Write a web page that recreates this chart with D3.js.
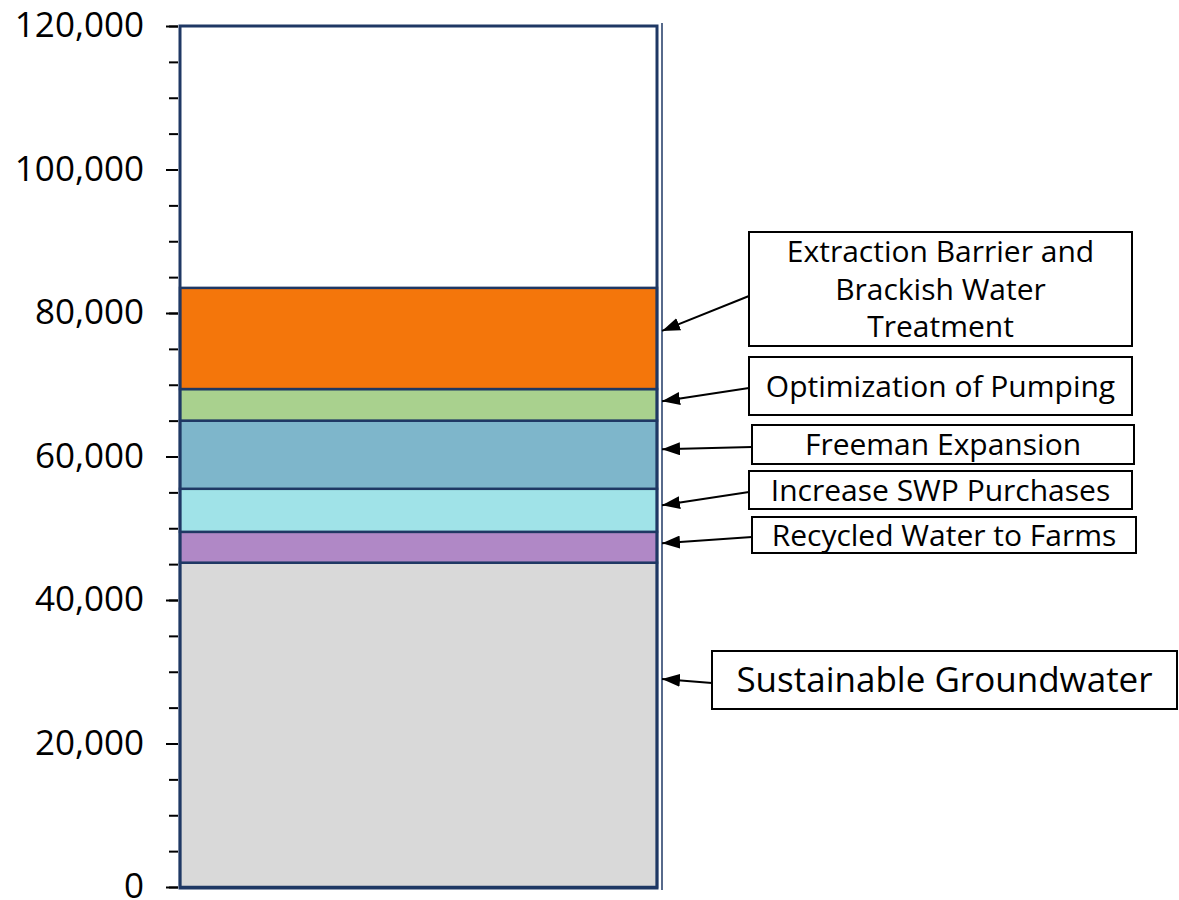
<!DOCTYPE html>
<html>
<head>
<meta charset="utf-8">
<script src="https://cdn.jsdelivr.net/npm/d3@7"></script>
<style>
  html, body { margin: 0; padding: 0; background: #fff; }
  svg { display: block; font-family: "Open Sans", "Noto Sans", sans-serif; }
</style>
</head>
<body>
<svg id="chart" width="1179" height="900"></svg>
<script>
// Supply components, stacked bottom to top (acre-feet per year)
const components = [
  "Sustainable Groundwater",
  "Recycled Water to Farms",
  "Increase SWP Purchases",
  "Freeman Expansion",
  "Optimization of Pumping",
  "Extraction Barrier and Brackish Water Treatment"
];
const amounts = [45200, 4300, 6000, 9500, 4400, 14100];
// Value on the bar that each callout arrow points at
const pointerValues = [29000, 47900, 53200, 61000, 67700, 77500];
const majorTicks = [0, 20000, 40000, 60000, 80000, 100000, 120000];
const minorTicks = d3.range(0, 120001, 5000);

const colors = ["#d9d9d9", "#b088c6", "#a0e3e8", "#7eb6cb", "#a9d18e", "#f4760b"];
const navy = "#1f3864";

// Callout boxes: [x0, y0, x1, y1], text lines, font size
const callouts = [
  { box: [712, 651, 1177, 709], lines: ["Sustainable Groundwater"], size: 35 },
  { box: [752, 517, 1136, 553], lines: ["Recycled Water to Farms"], size: 30 },
  { box: [749, 471, 1132, 509], lines: ["Increase SWP Purchases"], size: 30 },
  { box: [752, 425, 1134, 464], lines: ["Freeman Expansion"], size: 30 },
  { box: [749, 357, 1132, 415], lines: ["Optimization of Pumping"], size: 30 },
  { box: [749, 232, 1132, 346], lines: ["Extraction Barrier and", "Brackish Water", "Treatment"], size: 30 }
];
const arrowStartY = [683, 537, 492, 447, 388, 296];

const svg = d3.select("#chart");
const plot = { left: 180, right: 657, top: 26, bottom: 887 };

const y = d3.scaleLinear().domain([0, 120000]).range([plot.bottom, plot.top]);

// Stacked segments
let base = 0;
const segs = amounts.map((v, i) => {
  const s = { name: components[i], y0: base, y1: base + v, color: colors[i] };
  base += v;
  return s;
});

svg.append("g").selectAll("rect").data(segs).join("rect")
  .attr("x", plot.left)
  .attr("width", plot.right - plot.left)
  .attr("y", d => y(d.y1))
  .attr("height", d => y(d.y0) - y(d.y1))
  .attr("fill", d => d.color)
  .attr("stroke", navy)
  .attr("stroke-width", 2.5);

// Plot frame
svg.append("rect")
  .attr("x", plot.left).attr("y", plot.top)
  .attr("width", plot.right - plot.left)
  .attr("height", plot.bottom + 1 - plot.top)
  .attr("fill", "none")
  .attr("stroke", navy)
  .attr("stroke-width", 3);

// Secondary vertical rule beside the bar
svg.append("line")
  .attr("x1", 662).attr("x2", 662)
  .attr("y1", 23).attr("y2", 890)
  .attr("stroke", navy).attr("stroke-width", 1.5);

// Minor ticks
const minorAxis = svg.append("g")
  .attr("transform", `translate(${plot.left - 2},0)`)
  .call(d3.axisLeft(y).tickValues(minorTicks).tickSize(9).tickFormat(""));
minorAxis.select(".domain").remove();
minorAxis.selectAll("line").attr("stroke", "#000").attr("stroke-width", 2);

// Major ticks with labels
const majorAxis = svg.append("g")
  .attr("transform", `translate(${plot.left - 2},0)`)
  .call(d3.axisLeft(y).tickValues(majorTicks).tickSize(12).tickPadding(22)
    .tickFormat(d3.format(",")));
majorAxis.select(".domain").remove();
majorAxis.selectAll("line").attr("stroke", "#000").attr("stroke-width", 2);
majorAxis.selectAll("text")
  .attr("font-size", 35)
  .attr("dy", "0.3em")
  .attr("font-family", "'Open Sans', 'Noto Sans', sans-serif")
  .attr("fill", "#000");

// Arrowhead marker
svg.append("defs").append("marker")
  .attr("id", "head")
  .attr("viewBox", "0 0 18 13")
  .attr("refX", 18).attr("refY", 6.5)
  .attr("markerWidth", 18).attr("markerHeight", 13)
  .attr("markerUnits", "userSpaceOnUse")
  .attr("orient", "auto")
  .append("path").attr("d", "M0,0 L18,6.5 L0,13 Z").attr("fill", "#000");

// Callouts
const cg = svg.append("g");
callouts.forEach((c, i) => {
  const [x0, y0, x1, y1] = c.box;
  cg.append("line")
    .attr("x1", x0).attr("y1", arrowStartY[i])
    .attr("x2", 662).attr("y2", y(pointerValues[i]))
    .attr("stroke", "#000").attr("stroke-width", 2)
    .attr("marker-end", "url(#head)");
  cg.append("rect")
    .attr("x", x0).attr("y", y0)
    .attr("width", x1 - x0).attr("height", y1 - y0)
    .attr("fill", "#fff").attr("stroke", "#000").attr("stroke-width", 2);
  const lh = c.size * 1.25;
  const cy = (y0 + y1) / 2;
  const firstY = cy - (c.lines.length - 1) * lh / 2;
  c.lines.forEach((t, j) => {
    cg.append("text")
      .attr("x", (x0 + x1) / 2)
      .attr("y", firstY + j * lh)
      .attr("dy", "0.35em")
      .attr("text-anchor", "middle")
      .attr("font-size", c.size)
      .attr("fill", "#000")
      .text(t);
  });
});
</script>
</body>
</html>
